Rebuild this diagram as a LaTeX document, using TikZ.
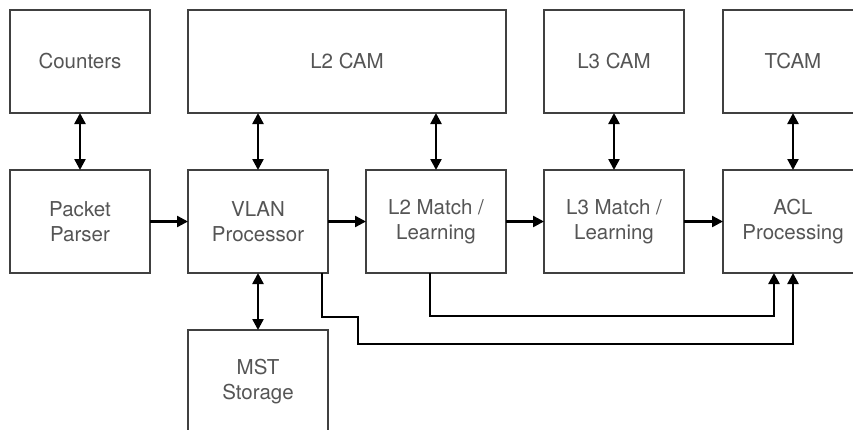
\documentclass[tikz,border=0pt]{standalone}
\usepackage{fontspec}
\setmainfont{TeX Gyre Heros}
\usetikzlibrary{arrows.meta,calc}
\definecolor{txt}{HTML}{555555}
\definecolor{edge}{HTML}{404040}
\tikzset{
  blk/.style={draw=edge, line width=1.2pt, rectangle, anchor=north west,
    minimum width=140pt, minimum height=103pt, inner sep=0pt, outer sep=0pt,
    text=txt, font=\fontsize{20.5}{25}\selectfont, align=center},
  link/.style={line width=2.4pt, black, -{Triangle[length=11pt,width=11pt]}},
  blink/.style={line width=2.4pt, black, {Triangle[length=11pt,width=11pt]}-{Triangle[length=11pt,width=11pt]}}
}
\begin{document}
\begin{tikzpicture}[x=1pt,y=-1pt]
\clip (0,0) rectangle (853,429);
\fill[white] (0,0) rectangle (853,429);
% top row
\node[blk] (cnt) at (10,10) {Counters};
\node[blk, minimum width=318pt] (l2cam) at (188,10) {L2 CAM};
\node[blk] (l3cam) at (544,10) {L3 CAM};
\node[blk] (tcam) at (723,10) {TCAM};
% middle row
\node[blk] (pp) at (10,170) {Packet\\Parser};
\node[blk] (vlan) at (188,170) {VLAN\\Processor};
\node[blk] (l2m) at (366,170) {L2 Match /\\Learning};
\node[blk] (l3m) at (544,170) {L3 Match /\\Learning};
\node[blk] (acl) at (723,170) {ACL\\Processing};
% bottom
\node[blk] (mst) at (188,330) {MST\\Storage};
% connectors
\draw[blink] (cnt.south) -- (pp.north);
\draw[link] (pp.east) -- (vlan.west);
\draw[link] (vlan.east) -- (l2m.west);
\draw[link] (l2m.east) -- (l3m.west);
\draw[link] (l3m.east) -- (acl.west);
\draw[blink] (vlan.north) -- (vlan.north |- l2cam.south);
\draw[blink] (l2m.north) -- (l2m.north |- l2cam.south);
\draw[blink] (l3m.north) -- (l3cam.south);
\draw[blink] (acl.north) -- (tcam.south);
\draw[blink] (vlan.south) -- (mst.north);
\coordinate (l2s) at ($(l2m.south)+(-6,0)$);
\coordinate (acla) at ($(acl.south)+(-19,0)$);
\draw[link] (l2s) -- (l2s |- 0,316) -- (acla |- 0,316) -- (acla);
\coordinate (vs) at ($(vlan.south east)+(-6,0)$);
\draw[link] (vs) -- (vs |- 0,317) -- (358,317) -- (358,344) -- (acl.south |- 0,344) -- (acl.south);
\end{tikzpicture}
\end{document}
